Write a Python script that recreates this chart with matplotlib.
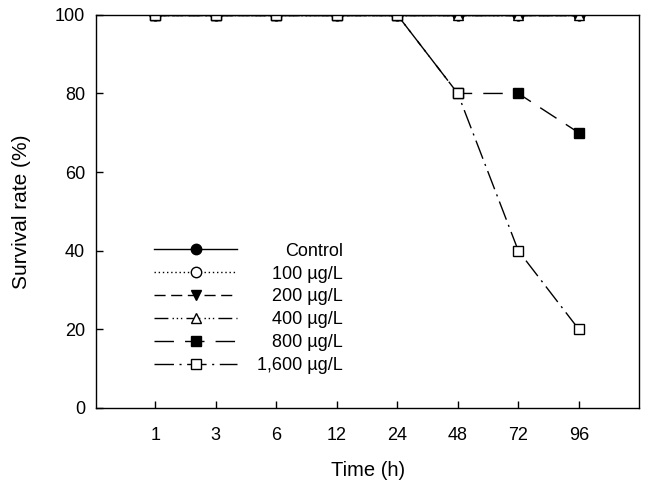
import numpy as np
import matplotlib
matplotlib.use("Agg")
import matplotlib.pyplot as plt

plt.rcParams['font.family'] = ['Liberation Sans', 'DejaVu Sans']

times = ['1', '3', '6', '12', '24', '48', '72', '96']
labels = ['Control', '100 µg/L', '200 µg/L', '400 µg/L', '800 µg/L', '1,600 µg/L']
control = [100, 100, 100, 100, 100, 100, 100, 100]
c100 = [100, 100, 100, 100, 100, 100, 100, 100]
c200 = [100, 100, 100, 100, 100, 100, 100, 100]
c400 = [100, 100, 100, 100, 100, 100, 100, 100]
c800 = [100, 100, 100, 100, 100, 80, 80, 70]
c1600 = [100, 100, 100, 100, 100, 80, 40, 20]

series = [control, c100, c200, c400, c800, c1600]
# linestyle, marker, face colour, marker size, zorder
styles = [
    ('-', 'o', 'black', 7.5, 2.1),
    ((0, (1, 2)), 'o', 'white', 7.5, 2.0),
    ((0, (8, 4)), 'v', 'black', 6.5, 2.2),
    ((0, (10, 3, 1, 2, 1, 2, 1, 3)), '^', 'white', 6.5, 2.3),
    ((0, (14, 8)), 's', 'black', 7, 2.4),
    ((0, (14, 4, 1.5, 4)), 's', 'white', 7, 2.5),
]

x = np.arange(1, len(times) + 1)
fig, ax = plt.subplots(figsize=(6.49, 4.95), dpi=100)
fig.subplots_adjust(left=0.148, right=0.985, top=0.97, bottom=0.176)

for vals, lab, (ls, mk, fc, ms, z) in zip(series, labels, styles):
    ax.plot(x, vals, linestyle=ls, marker=mk, markerfacecolor=fc,
            markeredgecolor='black', color='black', linewidth=1.0,
            markersize=ms, markeredgewidth=1.0, label=lab, zorder=z)

ax.set_xlim(0.02, 9.0)
ax.set_ylim(0, 100)
ax.set_xticks(x)
ax.set_xticklabels(times)
ax.set_yticks([0, 20, 40, 60, 80, 100])
ax.tick_params(direction='in', length=5, labelsize=13, pad=14, width=1)
ax.tick_params(axis='y', pad=8)
for s in ax.spines.values():
    s.set_linewidth(1.0)
ax.set_xlabel('Time (h)', fontsize=14.5, labelpad=12)
ax.set_ylabel('Survival rate (%)', fontsize=15, labelpad=17)

leg = ax.legend(loc='lower left', bbox_to_anchor=(0.077, 0.044), frameon=False,
                fontsize=13, handlelength=4.6, handletextpad=1.1,
                labelspacing=0.33)
# right-align the legend labels
fig.canvas.draw()
renderer = fig.canvas.get_renderer()
widths = [t.get_window_extent(renderer).width for t in leg.get_texts()]
for t, w in zip(leg.get_texts(), widths):
    t.set_position((max(widths) - w, 0))

fig.savefig('out.png', dpi=100)
